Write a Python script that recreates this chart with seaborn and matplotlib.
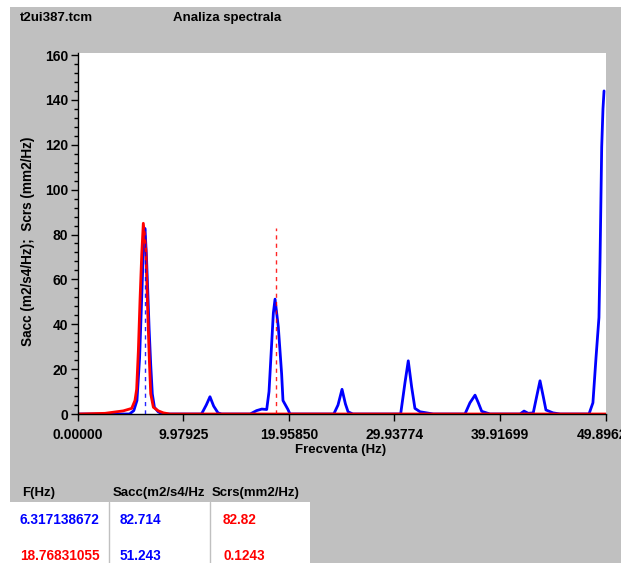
import matplotlib
matplotlib.use("Agg")
import matplotlib.pyplot as plt
import seaborn as sns
import pandas as pd
from matplotlib.patches import Rectangle
from matplotlib.lines import Line2D
from matplotlib.ticker import MultipleLocator, FixedLocator

# ---------------- data ----------------
sacc_freq = [0.0, 4.9, 5.3, 5.6, 5.85, 6.05, 6.2, 6.36, 6.5, 6.62, 6.75, 6.9, 7.05, 7.25,
             7.6, 8.0, 11.7, 12.15, 12.5, 12.85, 13.26, 13.6, 16.3, 16.9, 17.4, 17.86,
             18.08, 18.49, 18.65, 18.96, 19.27, 19.4, 19.87, 20.06, 24.2, 24.6, 24.98,
             25.3, 25.55, 26.0, 30.52, 30.93, 31.24, 31.56, 31.87, 32.35, 33.6, 36.6,
             37.07, 37.55, 37.86, 38.18, 38.96, 41.8, 42.18, 42.58, 43.05, 43.37, 43.69,
             44.0, 44.25, 44.92, 45.6, 48.32, 48.69, 48.98, 49.26, 49.36, 49.52, 49.64,
             49.74]
sacc_val = [0.0, 0.0, 1.5, 6.0, 25.0, 52.0, 72.0, 82.7, 70.0, 55.0, 38.0, 22.0, 9.0, 3.0,
            1.0, 0.0, 0.0, 4.0, 7.7, 3.5, 0.5, 0.0, 0.0, 1.5, 2.2, 2.0,
            10.0, 45.0, 51.2, 38.7, 18.0, 6.0, 2.0, 0.0, 0.0, 4.0, 11.0,
            4.5, 1.0, 0.0, 0.0, 14.0, 23.7, 12.0, 2.5, 1.0, 0.0, 0.0,
            5.0, 8.4, 5.0, 1.2, 0.0, 0.0, 1.3, 0.3, 0.5, 7.7, 14.8,
            7.7, 1.8, 0.5, 0.0, 0.0, 5.0, 25.0, 43.0, 68.0, 119.0, 136.0,
            144.0]

scrs_freq = [0.0, 2.58, 4.31, 5.1, 5.41, 5.57, 5.73, 5.89, 6.05, 6.2, 6.45, 6.58, 6.77,
             6.9, 7.15, 7.62, 8.1, 8.72, 49.8962]
scrs_val = [0.0, 0.3, 1.4, 2.5, 6.0, 11.0, 28.0, 51.0, 71.0, 85.0, 73.0, 51.0, 24.0,
            9.0, 3.0, 1.4, 0.5, 0.0, 0.0]

cursor_freq = [6.317138672, 18.76831055]
cursor_top = [82.714, 82.82]
cursor_colors = ["blue", "red"]

table_header = ["F(Hz)", "Sacc(m2/s4/Hz", "Scrs(mm2/Hz)"]
table_f = ["6.317138672", "18.76831055"]
table_sacc = ["82.714", "51.243"]
table_scrs = ["82.82", "0.1243"]
table_f_colors = ["blue", "red"]

xtick_vals = [0.0, 9.97925, 19.9585, 29.93774, 39.91699, 49.89624]
xtick_labels = ["0.00000", "9.97925", "19.95850", "29.93774", "39.91699", "49.89624"]

# ---------------- style ----------------
sns.set_theme(style="white")
plt.rcParams['font.family'] = ['Liberation Sans', 'DejaVu Sans']
plt.rcParams['font.weight'] = 'bold'

W, H = 631, 563
fig = plt.figure(figsize=(W / 100, H / 100), dpi=100)
fig.patch.set_facecolor("white")

def fx(px):
    return px / W

def fy(py):
    return 1 - py / H

GREY = "#c0c0c0"
# grey panel
fig.add_artist(Rectangle((fx(10), 0), fx(621) - fx(10), fy(7), transform=fig.transFigure,
                         facecolor=GREY, edgecolor="none", zorder=-5))

ax_l, ax_r, ax_t, ax_b = 77.7, 606.0, 53.0, 414.0
ax = fig.add_axes([fx(ax_l), fy(ax_b), fx(ax_r) - fx(ax_l), fy(ax_t) - fy(ax_b)])
ax.set_facecolor("white")

df_sacc = pd.DataFrame({"f": sacc_freq, "v": sacc_val})
df_scrs = pd.DataFrame({"f": scrs_freq, "v": scrs_val})

sns.lineplot(data=df_sacc, x="f", y="v", ax=ax, color="#0000ff", lw=2.0,
             estimator=None, sort=False, legend=False)
sns.lineplot(data=df_scrs, x="f", y="v", ax=ax, color="#ff0000", lw=2.0,
             estimator=None, sort=False, legend=False)

for f, top, c in zip(cursor_freq, cursor_top, cursor_colors):
    ax.vlines(f, 0, top, colors=c, linestyles=(0, (3, 3)), lw=1.0, alpha=0.85, zorder=3)

ax.set_xlim(0, 49.8962 + 0.03)
ax.set_ylim(0, 160.9)
ax.xaxis.set_major_locator(FixedLocator(xtick_vals))
ax.set_xticklabels(xtick_labels)
ax.yaxis.set_major_locator(MultipleLocator(20))
ax.yaxis.set_minor_locator(MultipleLocator(4))
ax.set_xlabel("")
ax.set_ylabel("")

for s in ["top", "right"]:
    ax.spines[s].set_visible(False)
for s in ["left", "bottom"]:
    ax.spines[s].set_color("black")
    ax.spines[s].set_linewidth(1.0)

ax.tick_params(axis="both", which="major", direction="out", length=5, width=1,
               color="black", labelsize=10, labelcolor="black")
ax.tick_params(axis="y", which="minor", direction="out", length=3, width=1,
               color="black", left=True)
ax.tick_params(axis="y", which="major", pad=2, left=True)
ax.tick_params(axis="x", which="major", pad=5, bottom=True)
for lbl in ax.get_xticklabels() + ax.get_yticklabels():
    lbl.set_fontweight("bold")

# white strip at the right edge (clips the last tick label like the panel border)
fig.add_artist(Rectangle((fx(621), 0), 1 - fx(621), 1, transform=fig.transFigure,
                         facecolor="white", edgecolor="none", zorder=10))

# axis labels
fig.text(fx(28), fy(241), "Sacc (m2/s4/Hz);  Scrs (mm2/Hz)", rotation=90,
         ha="center", va="center", fontsize=9.8, fontweight="bold", color="black")
fig.text(fx(341), fy(450.5), "Frecventa (Hz)", ha="center", va="center",
         fontsize=9.5, fontweight="bold", color="black")

# title row
fig.text(fx(20), fy(18), "t2ui387.tcm", ha="left", va="center", fontsize=9.5,
         fontweight="bold", color="black")
fig.text(fx(173), fy(18), "Analiza spectrala", ha="left", va="center", fontsize=9.5,
         fontweight="bold", color="black")

# table
fig.add_artist(Rectangle((fx(10), 0), fx(310) - fx(10), fy(502), transform=fig.transFigure,
                         facecolor="white", edgecolor="none", zorder=1))
for xs in [109, 210]:
    fig.add_artist(Line2D([fx(xs), fx(xs)], [0, fy(502)], transform=fig.transFigure,
                          color=GREY, lw=1.0, zorder=2))
for x0, t in zip([22, 113, 212], table_header):
    fig.text(fx(x0), fy(493), t, ha="left", va="center", fontsize=9.5,
             fontweight="bold", color="black", zorder=3)
for i, yy in enumerate([520, 556]):
    fig.text(fx(20), fy(yy), table_f[i], ha="left", va="center", fontsize=9.8,
             fontweight="bold", color=table_f_colors[i], zorder=3)
    fig.text(fx(120), fy(yy), table_sacc[i], ha="left", va="center", fontsize=9.8,
             fontweight="bold", color="blue", zorder=3)
    fig.text(fx(223), fy(yy), table_scrs[i], ha="left", va="center", fontsize=9.8,
             fontweight="bold", color="red", zorder=3)

fig.savefig("out.png", dpi=100, facecolor=fig.get_facecolor())
